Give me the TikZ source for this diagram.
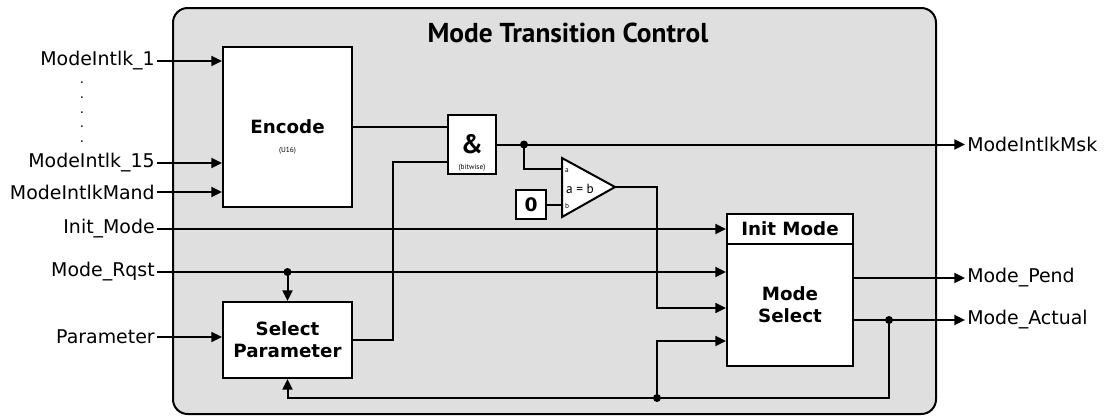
\documentclass[tikz,border=0pt]{standalone}
\usepackage{fontspec}
\setmainfont{DejaVu Sans}
\newfontfamily\ptsans{PT Sans}
\usetikzlibrary{arrows.meta}
\definecolor{bg}{RGB}{223,223,223}
\begin{document}
\begin{tikzpicture}[x=0.75pt,y=-0.75pt,
  wire/.style={line width=1.5pt},
  arr/.style={wire,-{Triangle[length=8pt,width=7.5pt]}},
  blk/.style={draw,line width=1.5pt,fill=white,inner sep=0pt,align=center,font=\fontsize{13.7}{16.5}\selectfont\bfseries},
  lbl/.style={inner sep=1.5pt,font=\fontsize{14.2}{16}\selectfont},
  jdot/.style={circle,fill,inner sep=0pt,minimum size=6pt},
  tiny/.style={font=\ptsans\fontsize{5.5}{6}\selectfont,inner sep=0pt},
  vdot/.style={inner sep=0pt,font=\fontsize{10}{10}\selectfont}
]
\useasboundingbox (0,0) rectangle (1114,418);
\draw[line width=1.5pt,fill=bg,rounded corners=11pt] (173,8) rectangle (936,414);
\node[font=\ptsans\bfseries\fontsize{20.5}{22}\selectfont] (title) at (568,33) {Mode Transition Control};

% blocks
\node[blk,minimum width=96.75pt,minimum height=120pt] (enc) at (287.5,127) {Encode};
\node[tiny] (u16) at (287.5,151) {(U16)};
\node[blk,minimum width=96.75pt,minimum height=57pt] (sp) at (287.5,340) {Select\\Parameter};
\node[blk,minimum width=36pt,minimum height=44.25pt,font=\ptsans\bfseries\fontsize{20}{20}\selectfont] (and) at (472,144.5) {\&};
\node[tiny] (bw) at (472,168) {(bitwise)};
\node[blk,minimum width=22.5pt,minimum height=21.75pt,font=\fontsize{14}{14}\selectfont\bfseries] (zero) at (531,204.5) {0};
\node[blk,minimum width=94.5pt,minimum height=22.5pt] (msh) at (790,229) {Init Mode};
\node[blk,minimum width=94.5pt,minimum height=91.5pt] (ms) at (790,305) {Mode\\Select};

% comparator
\coordinate (ta) at (562,158);
\coordinate (tb) at (562,217);
\coordinate (tc) at (615,187);
\draw[wire,fill=white] (ta) -- (tc) -- (tb) -- cycle;
\node[font=\ptsans\fontsize{10}{10}\selectfont,inner sep=0pt] (cmp) at (580,189) {a = b};
\node[tiny] (la) at (567,171) {a};
\node[tiny] (lb) at (567,206) {b};

% inputs
\node[lbl,anchor=east] (i1) at (157,61) {ModeIntlk\_1};
\foreach \y/\n in {83/1,98/2,113/3,127/4,142/5} \node[vdot] (d\n) at (82,\y) {.};
\node[lbl,anchor=east] (i15) at (157,163) {ModeIntlk\_15};
\node[lbl,anchor=east] (imand) at (157,192) {ModeIntlkMand};
\node[lbl,anchor=east] (iinit) at (157,229) {Init\_Mode};
\node[lbl,anchor=east] (irq) at (157,272) {Mode\_Rqst};
\node[lbl,anchor=east] (ipar) at (157,337) {Parameter};

% outputs
\node[lbl,anchor=west] (omsk) at (965,144.5) {ModeIntlkMsk};
\node[lbl,anchor=west] (opend) at (965,278) {Mode\_Pend};
\node[lbl,anchor=west] (oact) at (965,320) {Mode\_Actual};

% helper coordinates
\coordinate (k1) at (393,162);
\coordinate (jand) at (524,144.5);
\coordinate (ina) at (562,169);
\coordinate (inb) at (562,205);
\coordinate (kc) at (657,187);
\coordinate (c3) at (0,308);
\coordinate (c4) at (0,341);
\coordinate (jact) at (889,320);
\coordinate (fb) at (0,398);
\coordinate (jfb) at (657,398);

% connectors
\draw[arr] (i1.east) -- (i1.east -| enc.west);
\draw[arr] (i15.east) -- (i15.east -| enc.west);
\draw[arr] (imand.east) -- (imand.east -| enc.west);
\draw[arr] (iinit.east) -- (iinit.east -| msh.west);
\draw[arr] (irq.east) -- (irq.east -| ms.west);
\coordinate (jrq) at (irq.east -| sp.north);
\draw[arr] (jrq) -- (sp.north);
\draw[arr] (ipar.east) -- (ipar.east -| sp.west);
\draw[wire] (enc.east) -- (enc.east -| and.west);
\draw[wire] (sp.east) -| (k1) -- (k1 -| and.west);
\draw[arr] (and.east) -- (omsk.west);
\draw[wire] (jand) |- (ina);
\draw[wire] (zero.east |- inb) -- (inb);
\draw[arr] (tc) -- (kc) |- (ms.west |- c3);
\draw[arr] (ms.east |- opend.west) -- (opend.west);
\draw[arr] (ms.east |- oact.west) -- (oact.west);
\draw[arr] (jact) |- (sp.south |- fb) -- (sp.south);
\draw[arr] (jfb) |- (ms.west |- c4);

% junctions
\node[jdot] (dj1) at (jrq) {};
\node[jdot] (dj2) at (jand) {};
\node[jdot] (dj3) at (jact) {};
\node[jdot] (dj4) at (jfb) {};
\end{tikzpicture}
\end{document}
